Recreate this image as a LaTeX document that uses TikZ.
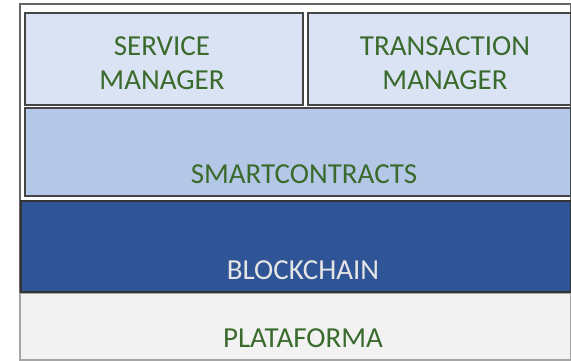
\documentclass[tikz,border=0pt]{standalone}
\usepackage{fontspec}
\setmainfont{Carlito}
\definecolor{lightbox}{HTML}{DAE3F3}
\definecolor{midbox}{HTML}{B4C7E7}
\definecolor{darkbox}{HTML}{2F5597}
\definecolor{grayfill}{HTML}{F2F2F2}
\definecolor{greentext}{HTML}{3A6B2C}
\definecolor{edge}{HTML}{454545}
\begin{document}
\begin{tikzpicture}[x=1pt,y=-1pt,
  layer/.style={draw=edge,line width=1.6pt,inner sep=0pt,outer sep=0pt},
  lbl/.style={font=\fontsize{29}{34}\selectfont,text=greentext,align=center,inner sep=0pt}]
\useasboundingbox (0,0) rectangle (571,361);
\fill[white] (0,0) rectangle (571,361);
% outer frame
\draw[draw=gray!80!black,line width=1.6pt] (20,4) rectangle (571,360);
% layers
\draw[layer,fill=lightbox] (25,13) rectangle (303,105);
\draw[layer,fill=lightbox] (308,13) rectangle (571,105);
\draw[layer,fill=midbox] (25,108) rectangle (571,196);
\draw[layer,draw=black!80,fill=darkbox] (21,201) rectangle (571,292);
\draw[draw=gray!70,line width=1.4pt,fill=grayfill] (20,293.5) rectangle (571,360);
% labels
\node[lbl] (sm) at (162,63) {SERVICE\\MANAGER};
\node[lbl] (tm) at (445,63) {TRANSACTION\\MANAGER};
\node[lbl] (sc) at (304,174) {SMARTCONTRACTS};
\node[lbl,text=black!10] (bc) at (303,270) {BLOCKCHAIN};
\node[lbl] (pl) at (303,338) {PLATAFORMA};
\end{tikzpicture}
\end{document}
